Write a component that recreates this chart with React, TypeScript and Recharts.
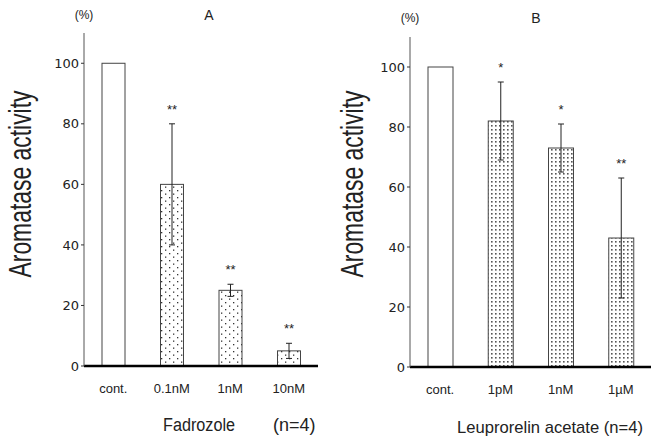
import React from 'react'
import {
	BarChart,
	Bar,
	XAxis,
	YAxis,
	ErrorBar,
	LabelList,
} from 'recharts'

const catsA = ['cont.', '0.1nM', '1nM', '10nM']
const valsA = [100, 60, 25, 5]
const errA = [0, 20, 2, 2.5]
const starsA = ['', '**', '**', '**']

const catsB = ['cont.', '1pM', '1nM', '1µM']
const valsB = [100, 82, 73, 43]
const errB = [0, 13, 8, 20]
const starsB = ['', '*', '*', '**']

const yTicks = [0, 20, 40, 60, 80, 100]

const FONT = '"Liberation Sans", Arial, sans-serif'
const TICK_FONT = '"DejaVu Sans", sans-serif'
const INK = '#222'

function rows(cats: string[], vals: number[], errs: number[]) {
	return cats.map((c, i) => ({ name: c, value: vals[i], err: errs[i] }))
}

function starLabel(stars: string[], errs: number[]) {
	return (props: any) => {
		const { x, y, width, height, index, value } = props
		const s = stars[index]
		if (!s) return null
		const k = Number(height) / Number(value)
		return (
			<text
				x={Number(x) + Number(width) / 2}
				y={Number(y) - errs[index] * k - 10}
				textAnchor='middle'
				fontSize={13}
				fontFamily={FONT}
				fill={INK}
			>
				{s}
			</text>
		)
	}
}

function Panel({
	data,
	stars,
	errs,
	fillId,
	barSize,
	yAxisWidth,
	width,
	margin,
}: {
	data: { name: string; value: number; err: number }[]
	stars: string[]
	errs: number[]
	fillId: string
	barSize: number
	yAxisWidth: number
	width: number
	margin: { top: number; right: number; left: number; bottom: number }
}) {
	return (
		<BarChart width={width} height={441} data={data} margin={margin}>
			<defs>
				<pattern id='dotsA' width='8' height='7' patternUnits='userSpaceOnUse'>
					<rect width='8' height='7' fill='#fff' />
					<rect x='1' y='1' width='1.3' height='1.3' fill='#333' />
					<rect x='5' y='4.5' width='1.3' height='1.3' fill='#333' />
				</pattern>
				<pattern id='dotsB' width='4' height='4' patternUnits='userSpaceOnUse'>
					<rect width='4' height='4' fill='#fff' />
					<rect x='1' y='1' width='1.6' height='1.6' fill='#555' />
				</pattern>
			</defs>
			<XAxis
				dataKey='name'
				height={30}
				axisLine={{ stroke: '#000', strokeWidth: 2.3 }}
				tickLine={false}
				tickMargin={12}
				tick={{ fontSize: 13, fontFamily: FONT, fill: INK }}
			/>
			<YAxis
				width={yAxisWidth}
				domain={[0, 110]}
				ticks={yTicks}
				allowDataOverflow
				axisLine={{ stroke: '#555', strokeWidth: 1 }}
				tickLine={{ stroke: '#333' }}
				tickSize={3}
				tick={{ fontSize: 13, fontFamily: TICK_FONT, fill: INK }}
			/>
			<Bar
				dataKey='value'
				barSize={barSize}
				stroke='#444'
				strokeWidth={1}
				isAnimationActive={false}
				fill={`url(#${fillId})`}
				shape={(p: any) => (
					<rect
						x={p.x}
						y={p.y}
						width={p.width}
						height={p.height}
						fill={p.index === 0 ? '#fff' : `url(#${fillId})`}
						stroke='#444'
						strokeWidth={1}
					/>
				)}
			>
				<ErrorBar dataKey='err' width={3} stroke={INK} strokeWidth={1} />
				<LabelList content={starLabel(stars, errs)} />
			</Bar>
		</BarChart>
	)
}

export default function App() {
	return (
		<div
			style={{
				position: 'absolute',
				left: 0,
				top: 0,
				width: 651,
				height: 441,
				background: '#fff',
				overflow: 'hidden',
			}}
		>
			<div style={{ position: 'absolute', left: 0, top: 0 }}>
				<Panel
					data={rows(catsA, valsA, errA)}
					stars={starsA}
					errs={errA}
					fillId='dotsA'
					barSize={23}
					yAxisWidth={84}
					width={330}
					margin={{ top: 33, right: 12, left: 0, bottom: 45 }}
				/>
			</div>
			<div style={{ position: 'absolute', left: 330, top: 0 }}>
				<Panel
					data={rows(catsB, valsB, errB)}
					stars={starsB}
					errs={errB}
					fillId='dotsB'
					barSize={25}
					yAxisWidth={80}
					width={321}
					margin={{ top: 37, right: 0, left: 0, bottom: 44 }}
				/>
			</div>

			{/* titles and axis names */}
			<svg
				width={651}
				height={441}
				style={{ position: 'absolute', left: 0, top: 0, pointerEvents: 'none' }}
				fontFamily={FONT}
				fill={INK}
			>
				<text x={84} y={19} textAnchor='middle' fontSize={12}>(%)</text>
				<text x={209} y={20} textAnchor='middle' fontSize={14}>A</text>
				<text x={410} y={22} textAnchor='middle' fontSize={12}>(%)</text>
				<text x={536} y={23} textAnchor='middle' fontSize={14}>B</text>

				<text
					transform='translate(31,184) rotate(-90)'
					textAnchor='middle'
					fontSize={32}
					textLength={187}
					lengthAdjust='spacingAndGlyphs'
				>
					Aromatase activity
				</text>
				<text
					transform='translate(363,184) rotate(-90)'
					textAnchor='middle'
					fontSize={32}
					textLength={187}
					lengthAdjust='spacingAndGlyphs'
				>
					Aromatase activity
				</text>

				<text x={163} y={431} fontSize={18} textLength={72} lengthAdjust='spacingAndGlyphs'>
					Fadrozole
				</text>
				<text x={273} y={431} fontSize={18}>(n=4)</text>
				<text x={457} y={433} fontSize={17} textLength={186} lengthAdjust='spacingAndGlyphs'>
					Leuprorelin acetate (n=4)
				</text>
			</svg>
		</div>
	)
}
